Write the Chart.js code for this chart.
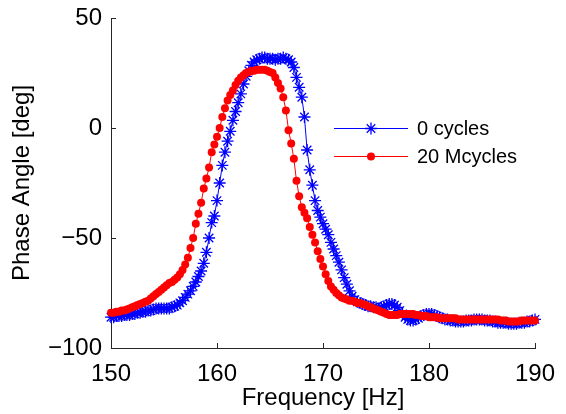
<!DOCTYPE html>
<html>
<head>
<meta charset="utf-8">
<script src="https://cdn.jsdelivr.net/npm/chart.js@4/dist/chart.umd.min.js"></script>
<style>
  html, body { margin: 0; padding: 0; background: #fff; }
  #phase { display: block; }
</style>
</head>
<body>
<canvas id="phase" width="566" height="414"></canvas>
<script>
// frequency grid [Hz], one row = 2 Hz
const freq = [
  150, 150.25, 150.5, 150.75, 151, 151.25, 151.5, 151.75,
  152, 152.25, 152.5, 152.75, 153, 153.25, 153.5, 153.75,
  154, 154.25, 154.5, 154.75, 155, 155.25, 155.5, 155.75,
  156, 156.25, 156.5, 156.75, 157, 157.25, 157.5, 157.75,
  158, 158.25, 158.5, 158.75, 159, 159.25, 159.5, 159.75,
  160, 160.25, 160.5, 160.75, 161, 161.25, 161.5, 161.75,
  162, 162.25, 162.5, 162.75, 163, 163.25, 163.5, 163.75,
  164, 164.25, 164.5, 164.75, 165, 165.25, 165.5, 165.75,
  166, 166.25, 166.5, 166.75, 167, 167.25, 167.5, 167.75,
  168, 168.25, 168.5, 168.75, 169, 169.25, 169.5, 169.75,
  170, 170.25, 170.5, 170.75, 171, 171.25, 171.5, 171.75,
  172, 172.25, 172.5, 172.75, 173, 173.25, 173.5, 173.75,
  174, 174.25, 174.5, 174.75, 175, 175.25, 175.5, 175.75,
  176, 176.25, 176.5, 176.75, 177, 177.25, 177.5, 177.75,
  178, 178.25, 178.5, 178.75, 179, 179.25, 179.5, 179.75,
  180, 180.25, 180.5, 180.75, 181, 181.25, 181.5, 181.75,
  182, 182.25, 182.5, 182.75, 183, 183.25, 183.5, 183.75,
  184, 184.25, 184.5, 184.75, 185, 185.25, 185.5, 185.75,
  186, 186.25, 186.5, 186.75, 187, 187.25, 187.5, 187.75,
  188, 188.25, 188.5, 188.75, 189, 189.25, 189.5, 189.75,
  190
];

// phase [deg], 0 cycles
const phase0 = [
  -86, -86, -85.5, -85.5, -85.5, -85, -85, -85,
  -84.5, -84.5, -84, -84, -83.5, -83.5, -83, -83,
  -82.5, -82, -82, -82, -82, -82, -82, -81.5,
  -81, -80.5, -79.5, -78.5, -77, -75.5, -74, -72,
  -70, -67.5, -65, -61.5, -56.5, -50, -43, -40,
  -33, -25, -17, -11, -6, -1.5, 3.5, 7.5,
  11.5, 15.5, 20, 23.5, 26, 28.5, 30, 31,
  31.5, 32, 32, 31.5, 31.5, 31.5, 31, 31.5,
  31.5, 32, 31.5, 31, 30, 27.5, 23, 18.5,
  14, 5, -10, -19, -26, -33, -37.5, -40.5,
  -43.5, -46, -48.5, -52, -55, -58, -61, -64.5,
  -68, -71, -74, -76.5, -78, -79, -79.5, -80,
  -80.5, -81, -81, -81.5, -81.5, -82, -81.5, -81,
  -80.5, -80, -80, -80.5, -81.5, -83, -84.5, -86,
  -87, -87.5, -87.5, -87, -86.5, -85.5, -85, -84.5,
  -84.5, -84.5, -85, -85.5, -86, -86.5, -87, -87,
  -87.5, -87.5, -88, -88, -88, -88, -87.5, -87.5,
  -87.5, -87, -87, -87, -87, -87.5, -87.5, -87.5,
  -88, -88, -88.5, -88.5, -88.5, -88.5, -89, -89,
  -89, -89, -88.5, -88.5, -88.5, -88, -88, -87.5,
  -87
];

// phase [deg], 20 Mcycles
const phase20M = [
  -84, -84, -83.5, -83.5, -83, -83, -82.5, -82,
  -81.5, -81, -80.5, -80, -79.5, -79, -78.5, -77.5,
  -76.5, -75.5, -74.5, -73.5, -72.5, -71.5, -70.5, -70,
  -69, -68, -66.5, -64.5, -62, -59, -54.5, -50,
  -43.5, -39, -34, -27.5, -23, -18, -11, -7.5,
  -4, 0, 5, 9, 12.5, 15, 17, 19.5,
  21.5, 23, 24, 25, 25.5, 26, 26, 26.5,
  26.5, 26.5, 26.5, 26, 25.5, 25, 23, 20.5,
  18, 14, 8, -1, -7, -14, -24, -31,
  -36, -38.5, -41, -45, -48.5, -52, -56, -59.5,
  -63, -66.5, -69.5, -72, -73.5, -75, -76, -77,
  -77.5, -78, -78.5, -78.5, -79, -79.5, -79.5, -80,
  -80.5, -81, -81.5, -82, -82.5, -83, -83.5, -84,
  -84.5, -85, -85, -85, -85, -84.5, -84.5, -84.5,
  -84.5, -84.5, -84.5, -85, -85, -85.5, -85.5, -85.5,
  -86, -86, -86, -86, -86.5, -86.5, -86.5, -86.5,
  -86.5, -86.5, -86.5, -87, -87, -87, -87, -87,
  -87, -87, -87, -87, -87, -87, -87, -87,
  -87, -87, -87, -87.5, -87.5, -87.5, -88, -88,
  -88, -88, -88, -87.5, -87.5, -87.5, -87.5, -87.5,
  -87.5
];

const seriesNames = ['0 cycles', '20 Mcycles'];
const xTicks = [150, 160, 170, 180, 190];
const yTicks = [-100, -50, 0, 50];

function pts(ys) {
  return ys.map((y, i) => ({ x: freq[i], y: y }));
}

const FONT = '"Liberation Sans", Arial, Helvetica, sans-serif';
const AXIS = '#262626';

// MATLAB style ticks pointing into the plot
const innerTicks = {
  id: 'innerTicks',
  afterDatasetsDraw(chart) {
    const ctx = chart.ctx;
    const xs = chart.scales.x, ys = chart.scales.y;
    const a = chart.chartArea;
    ctx.save();
    ctx.strokeStyle = AXIS;
    ctx.lineWidth = 1;
    ctx.beginPath();
    xTicks.forEach(v => {
      const px = Math.round(xs.getPixelForValue(v)) + 0.5;
      ctx.moveTo(px, a.bottom);
      ctx.lineTo(px, a.bottom - 5);
    });
    yTicks.forEach(v => {
      const py = Math.round(ys.getPixelForValue(v)) + 0.5;
      ctx.moveTo(a.left, py);
      ctx.lineTo(a.left + 5, py);
    });
    ctx.stroke();
    ctx.restore();
  }
};

// legend without a box, inside the axes
const innerLegend = {
  id: 'innerLegend',
  afterDraw(chart) {
    const ctx = chart.ctx;
    const x0 = 334, x1 = 408, rows = [128, 156];
    ctx.save();
    chart.data.datasets.forEach((ds, i) => {
      const y = rows[i];
      ctx.strokeStyle = ds.borderColor;
      ctx.fillStyle = ds.borderColor;
      ctx.lineWidth = 1;
      ctx.beginPath();
      ctx.moveTo(x0, y + 0.5);
      ctx.lineTo(x1, y + 0.5);
      ctx.stroke();
      ctx.lineWidth = ds.pointBorderWidth || 1;
      Chart.helpers.drawPoint(ctx, {
        pointStyle: ds.pointStyle,
        radius: ds.pointRadius,
        borderWidth: ds.pointBorderWidth
      }, (x0 + x1) / 2, y + 0.5);
      ctx.fillStyle = '#000';
      ctx.font = '20px ' + FONT;
      ctx.textBaseline = 'middle';
      ctx.fillText(ds.label, 417, y + 1);
    });
    ctx.restore();
  }
};

const ctx = document.getElementById('phase').getContext('2d');
const chart = new Chart(ctx, {
  type: 'scatter',
  data: {
    datasets: [
      {
        label: seriesNames[0],
        data: pts(phase0),
        showLine: true,
        borderColor: '#0000ff',
        backgroundColor: '#0000ff',
        borderWidth: 1,
        pointStyle: 'star',
        pointRadius: 6,
        pointBorderWidth: 1.3,
        pointBorderColor: '#0000ff',
        clip: false,
        order: 1
      },
      {
        label: seriesNames[1],
        data: pts(phase20M),
        showLine: true,
        borderColor: '#ff0000',
        backgroundColor: '#ff0000',
        borderWidth: 1,
        pointStyle: 'circle',
        pointRadius: 4,
        pointBorderWidth: 0,
        pointBackgroundColor: '#ff0000',
        clip: false,
        order: 0
      }
    ]
  },
  options: {
    responsive: false,
    animation: false,
    layout: { padding: { top: 18, right: 31, left: 0, bottom: 0 } },
    plugins: {
      legend: { display: false },
      tooltip: { enabled: false }
    },
    scales: {
      x: {
        type: 'linear',
        min: 150,
        max: 190,
        afterBuildTicks: s => { s.ticks = xTicks.map(v => ({ value: v })); },
        afterFit: s => { s.height = 66; s.paddingLeft = 0; s.paddingRight = 0; },
        grid: { drawOnChartArea: false, drawTicks: false },
        border: { color: AXIS, width: 1 },
        ticks: { color: '#000', padding: 12, font: { family: FONT, size: 24 } },
        title: {
          display: true,
          text: 'Frequency [Hz]',
          color: '#000',
          padding: { top: 0, bottom: 1 },
          font: { family: FONT, size: 24 }
        }
      },
      y: {
        min: -100,
        max: 50,
        afterBuildTicks: s => { s.ticks = yTicks.map(v => ({ value: v })); },
        afterFit: s => { s.width = 111; s.paddingTop = 0; s.paddingBottom = 0; },
        grid: { drawOnChartArea: false, drawTicks: false },
        border: { color: AXIS, width: 1 },
        ticks: {
          color: '#000',
          padding: 9,
          font: { family: FONT, size: 24 },
          callback: v => (v < 0 ? '\u2212' + Math.abs(v) : '' + v)
        },
        title: {
          display: true,
          text: 'Phase Angle [deg]',
          color: '#000',
          padding: { top: 8, bottom: 0 },
          font: { family: FONT, size: 24 }
        }
      }
    }
  },
  plugins: [innerTicks, innerLegend]
});
</script>
</body>
</html>
